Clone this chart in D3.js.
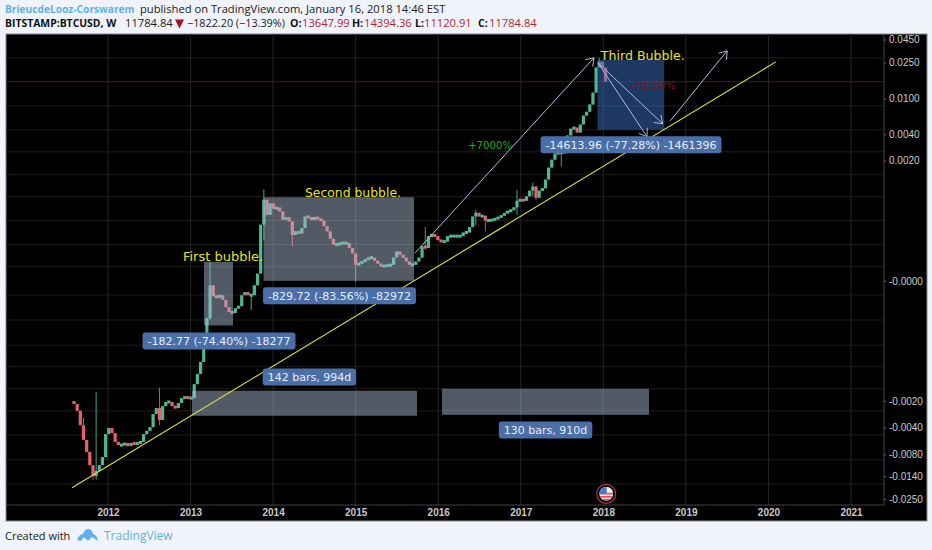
<!DOCTYPE html>
<html>
<head>
<meta charset="utf-8">
<script src="https://cdn.jsdelivr.net/npm/d3@7"></script>
<style>
  html, body { margin: 0; padding: 0; background: #f0f3fa; overflow: hidden; }
  svg { display: block; }
  .head { font-family: "Open Sans", sans-serif; font-size: 11.2px; fill: #222; }
  .axis text { font-family: "Liberation Sans", Arial, sans-serif; font-size: 10px; fill: #c9c9c9; }
  .xaxis text { font-weight: bold; }
  .tag text { font-family: "DejaVu Sans", Verdana, sans-serif; font-size: 11px; fill: #e6edf7; }
</style>
</head>
<body>
<div id="chart"></div>
<script>
// CONSTANTS
const width = 932, height = 550;
const frame = { left: 6, right: 927, top: 34, bottom: 521 };
const plotRight = 884, plotBottom = 505;

const firstYear = 2011.588;
const stepYears = 14 / 365.25; // one candle per two weeks
const firstOpen = -0.00200;
const closes = [
  -0.00217, -0.00259, -0.00377, -0.00552, -0.00751, -0.01055, -0.01397, -0.0122, -0.01055, -0.00859,
  -0.00475, -0.00407, -0.00463, -0.00581, -0.00631, -0.00631, -0.00598, -0.00648, -0.00598, -0.00615,
  -0.00598, -0.00581, -0.00475, -0.00437, -0.00397, -0.00282, -0.00241, -0.00329, -0.00229, -0.00205,
  -0.00205, -0.00229, -0.00241, -0.00211, -0.00185, -0.0018, -0.00185, -0.00185, -0.00127, -0.00096,
  -0.00068, -0.00041, -0.000157, -0.000012, -0.000048, -0.000052, -0.000044, -0.000062, -0.000095, -0.00012,
  -0.000126, -0.0001, -0.00009, -0.000044, -0.000033, -0.000044, -0.000044, -0.000012, 0.00002, 0.000315,
  0.00068, 0.00043, 0.00061, 0.00052, 0.00054, 0.00048, 0.00037, 0.0004, 0.00035, 0.00022,
  0.00025, 0.00023, 0.00028, 0.00041, 0.0004, 0.00037, 0.0004, 0.00038, 0.00036, 0.0003,
  0.00025, 0.00019, 0.00015, 0.00015, 0.00016, 0.00016, 0.00016, 0.00013, 0.0001, 0.00005,
  0.000056, 0.000063, 0.00007, 0.00008, 0.00008, 0.000066, 0.000055, 0.000044, 0.000047, 0.000047,
  0.00005, 0.00008, 0.00011, 0.000093, 0.00008, 0.000063, 0.00005, 0.00005, 0.000063, 0.00008,
  0.00014, 0.00013, 0.00021, 0.00022, 0.00021, 0.00018, 0.00017, 0.00017, 0.00021, 0.00021,
  0.00021, 0.00021, 0.00021, 0.00024, 0.00024, 0.00029, 0.00041, 0.00046, 0.00041, 0.00042,
  0.00036, 0.00036, 0.00037, 0.00038, 0.0004, 0.00042, 0.00046, 0.00048, 0.0005, 0.00054,
  0.00066, 0.00068, 0.00066, 0.00075, 0.00088, 0.00099, 0.00072, 0.00088, 0.00094, 0.0012,
  0.00166, 0.00205, 0.00241, 0.00247, 0.00247, 0.00253, 0.00387, 0.00462, 0.00475, 0.00417,
  0.00514, 0.00647, 0.00713, 0.00859, 0.01165, 0.0221, 0.0256, 0.0221, 0.0154
];
// [candle number, high, low]
const wicks = [
  [3, -0.0031, -0.00552], [6, -0.0110, -0.0153], [7, -0.00156, -0.0153], [27, -0.0014, -0.00377],
  [43, 0.000063, -0.00017], [56, -0.00004, -0.00011], [60, 0.00091, 0.00018], [69, 0.00035, 0.00014],
  [89, 0.00007, -0.000003], [111, 0.00029, 0.00012], [127, 0.0005, 0.00031], [130, 0.00042, 0.00025],
  [140, 0.0009, 0.00043], [145, 0.0011, 0.00075], [146, 0.00099, 0.00068], [154, 0.00255, 0.00171],
  [166, 0.0283, 0.0221]
];

const yearTicks = [2012, 2013, 2014, 2015, 2016, 2017, 2018, 2019, 2020, 2021];
const priceTicks = [0.045, 0.025, 0.01, 0.004, 0.002, 0, -0.002, -0.004, -0.008, -0.014, -0.025];
const priceTickLabels = ["0.0450", "0.0250", "0.0100", "0.0040", "0.0020", "-0.0000", "-0.0020", "-0.0040", "-0.0080", "-0.0140", "-0.0250"];
const gridValues = [0.0283, 0.0083, 0.00448, 0.00252, 0.00137, 0.00074, 0.00036, 0.00015, 0.000043, -0.000043,
  -0.00017, -0.00041, -0.00078, -0.00144, -0.00259, -0.00484, -0.0092, -0.017];
const lastClose = 0.0154;

// [start year, end year, top value, bottom value]
const greyBoxes = [
  [2013.163, 2013.514, 0.000062, -0.00021],
  [2013.884, 2015.707, 0.00073, 0],
  [2013.017, 2015.743, -0.00152, -0.00295],
  [2016.046, 2018.553, -0.00144, -0.00288]
];
const blueBox = [2017.929, 2018.738, 0.0269, 0.00448];
// [start year, start value, end year, end value]
const trendLine = [2011.564, -0.0188, 2020.09, 0.0255];
const arrows = [
  [2015.72, 0.000103, 2017.887, 0.0283],
  [2017.935, 0.0249, 2018.72, 0.00523],
  [2017.935, 0.0249, 2018.53, 0.00374],
  [2018.81, 0.00565, 2019.5, 0.0338]
];
const notes = [
  ["First bubble.", 2012.908, 0.000066, "#e4e41c", 13],
  ["Second bubble.", 2014.386, 0.00074, "#e4e41c", 12.4],
  ["Third Bubble.", 2017.97, 0.0269, "#e4e41c", 12.6],
  ["+7000%", 2016.36, 0.00273, "#17b017", 10.2],
  ["-70.90%", 2018.32, 0.0128, "#7d1b1f", 11]
];
const tags = [
  ["-182.77 (-74.40%) -18277", 2013.345, -0.00036],
  ["-829.72 (-83.56%) -82972", 2014.804, -0.000046],
  ["-14613.96 (-77.28%) -1461396", 2018.335, 0.00303],
  ["142 bars, 994d", 2014.44, -0.00104],
  ["130 bars, 910d", 2017.3, -0.00426]
];
const eventYear = 2018.035, eventValue = -0.0219;

// SCALES
const xScale = d3.scaleLinear().domain([2012, 2021]).range([108, 851]);
const yScale = d3.scaleSymlog().constant(0.0001).domain([-0.025, 0.045]).range([499, 39.5]);

const svg = d3.select("#chart").append("svg").attr("width", width).attr("height", height);

svg.append("defs").append("filter").attr("id", "soft")
  .append("feGaussianBlur").attr("stdDeviation", 0.45);

svg.append("rect")
  .attr("x", frame.left).attr("y", frame.top)
  .attr("width", frame.right - frame.left).attr("height", frame.bottom - frame.top)
  .attr("fill", "#000").attr("stroke", "#8a8a8a");

// HEADER
svg.append("text").attr("class", "head").attr("x", 5).attr("y", 13)
  .attr("font-weight", "bold").style("fill", "#5db3e8").style("font-size", "10.2px")
  .text("BrieucdeLooz-Corswarem");
svg.append("text").attr("class", "head").attr("x", 140).attr("y", 13)
  .text("published on TradingView.com, January 16, 2018 14:46 EST");

const head2 = [
  ["BITSTAMP:BTCUSD, W", 5, "#111", "bold", "10.4px"],
  ["11784.84", 125, "#222", "normal", "11.2px"],
  ["\u22121822.20 (\u221213.39%)", 187, "#222", "normal", "10.8px"],
  ["O:", 290, "#111", "bold", "10.6px"], ["13647.99", 302, "#b3262f", "normal", "11.2px"],
  ["H:", 352, "#111", "bold", "10.6px"], ["14394.36", 364, "#b3262f", "normal", "11.2px"],
  ["L:", 415, "#111", "bold", "10.6px"], ["11120.91", 424, "#b3262f", "normal", "11.2px"],
  ["C:", 478, "#111", "bold", "10.6px"], ["11784.84", 489, "#b3262f", "normal", "11.2px"]
];
svg.selectAll(".head2").data(head2).join("text")
  .attr("class", "head head2")
  .attr("x", d => d[1]).attr("y", 27)
  .style("fill", d => d[2]).style("font-size", d => d[4])
  .attr("font-weight", d => d[3])
  .text(d => d[0]);
svg.append("path").attr("d", "M175,19.5h9l-4.5,9z").attr("fill", "#a5141e");

// GRID
svg.append("g").selectAll("line").data(gridValues).join("line")
  .attr("x1", frame.left).attr("x2", plotRight)
  .attr("y1", d => yScale(d)).attr("y2", d => yScale(d))
  .attr("stroke", "#1d1d1d");
svg.append("g").selectAll("line").data(yearTicks).join("line")
  .attr("x1", d => xScale(d)).attr("x2", d => xScale(d))
  .attr("y1", frame.top).attr("y2", plotBottom)
  .attr("stroke", "#242424");
svg.append("line")
  .attr("x1", frame.left).attr("x2", plotRight)
  .attr("y1", yScale(lastClose)).attr("y2", yScale(lastClose))
  .attr("stroke", "#4a181d");

// AXES
const xAxis = d3.axisBottom(xScale).tickValues(yearTicks).tickFormat(d3.format("d")).tickSize(0).tickPadding(4);
const yAxis = d3.axisRight(yScale).tickValues(priceTicks).tickFormat((d, i) => priceTickLabels[i]).tickSize(2).tickPadding(3);

svg.append("g").attr("class", "axis xaxis")
  .attr("transform", `translate(0, ${plotBottom})`)
  .call(xAxis)
  .call(g => g.select(".domain").attr("d", `M${frame.left},0H${plotRight}`).attr("stroke", "#444"));
svg.append("g").attr("class", "axis")
  .attr("transform", `translate(${plotRight}, 0)`)
  .call(yAxis)
  .call(g => g.select(".domain").attr("d", `M0,${frame.top}V${plotBottom}`).attr("stroke", "#444"))
  .call(g => g.selectAll(".tick line").attr("stroke", "#666"));

// CANDLES
const candles = closes.map((close, i) => {
  const open = i === 0 ? firstOpen : closes[i - 1];
  const wick = wicks.find(w => w[0] === i);
  return {
    year: firstYear + i * stepYears,
    open: open,
    close: close,
    high: wick ? wick[1] : Math.max(open, close),
    low: wick ? wick[2] : Math.min(open, close)
  };
});
const candleColor = d => d.close >= d.open ? "#4fb892" : "#e8606d";

const candleGroup = svg.append("g").attr("filter", "url(#soft)");
candleGroup.append("g").selectAll("line").data(candles).join("line")
  .attr("x1", d => xScale(d.year)).attr("x2", d => xScale(d.year))
  .attr("y1", d => yScale(d.high)).attr("y2", d => yScale(d.low))
  .attr("stroke", candleColor).attr("stroke-width", 0.9);
candleGroup.append("g").selectAll("rect").data(candles).join("rect")
  .attr("x", d => xScale(d.year) - 1.6).attr("width", 3.2)
  .attr("y", d => (yScale(d.open) + yScale(d.close)) / 2 - Math.max(3, Math.abs(yScale(d.open) - yScale(d.close))) / 2)
  .attr("height", d => Math.max(3, Math.abs(yScale(d.open) - yScale(d.close))))
  .attr("fill", candleColor);

// BOXES
svg.append("g").selectAll("rect").data(greyBoxes).join("rect")
  .attr("x", d => xScale(d[0])).attr("width", d => xScale(d[1]) - xScale(d[0]))
  .attr("y", d => yScale(d[2])).attr("height", d => yScale(d[3]) - yScale(d[2]))
  .attr("fill", "#a9bdd3").attr("opacity", 0.48);
svg.append("rect")
  .attr("x", xScale(blueBox[0])).attr("width", xScale(blueBox[1]) - xScale(blueBox[0]))
  .attr("y", yScale(blueBox[2])).attr("height", yScale(blueBox[3]) - yScale(blueBox[2]))
  .attr("fill", "#3a6fc4").attr("opacity", 0.5);

// LINES
svg.append("line")
  .attr("x1", xScale(trendLine[0])).attr("y1", yScale(trendLine[1]))
  .attr("x2", xScale(trendLine[2])).attr("y2", yScale(trendLine[3]))
  .attr("stroke", "#dcdc48").attr("stroke-width", 1.1);

const arrowGroup = svg.append("g").attr("stroke", "#b4b8dc").attr("stroke-width", 1).attr("fill", "none");
arrows.forEach(a => {
  const x1 = xScale(a[0]), y1 = yScale(a[1]), x2 = xScale(a[2]), y2 = yScale(a[3]);
  const angle = Math.atan2(y2 - y1, x2 - x1);
  const head = 9;
  arrowGroup.append("line").attr("x1", x1).attr("y1", y1).attr("x2", x2).attr("y2", y2);
  arrowGroup.append("path").attr("d", d3.line()([
    [x2 - head * Math.cos(angle - 0.6), y2 - head * Math.sin(angle - 0.6)],
    [x2, y2],
    [x2 - head * Math.cos(angle + 0.6), y2 - head * Math.sin(angle + 0.6)]
  ]));
});

// TEXT NOTES
svg.append("g").selectAll("text").data(notes).join("text")
  .attr("x", d => xScale(d[1])).attr("y", d => yScale(d[2]))
  .attr("fill", d => d[3]).attr("font-size", d => d[4])
  .attr("font-family", "'DejaVu Sans', Verdana, sans-serif")
  .text(d => d[0]);

// MEASURE TAGS
const tag = svg.append("g").selectAll("g").data(tags).join("g")
  .attr("class", "tag")
  .attr("transform", d => `translate(${xScale(d[1])}, ${yScale(d[2])})`);
tag.append("text").attr("text-anchor", "middle").attr("dy", "0.35em").text(d => d[0]);
tag.insert("rect", "text").each(function() {
  const box = this.parentNode.querySelector("text").getBBox();
  d3.select(this)
    .attr("x", box.x - 5).attr("y", -8.5)
    .attr("width", box.width + 10).attr("height", 17)
    .attr("rx", 3).attr("fill", "#4a6fa8");
});

// EVENT MARKER
const ex = xScale(eventYear), ey = yScale(eventValue);
const marker = svg.append("g").attr("transform", `translate(${ex}, ${ey})`);
marker.append("circle").attr("r", 9.5).attr("fill", "#000").attr("stroke", "#a83a4a").attr("stroke-width", 1.2);
marker.append("clipPath").attr("id", "flag").append("circle").attr("r", 7);
const flag = marker.append("g").attr("clip-path", "url(#flag)");
flag.append("rect").attr("x", -7).attr("y", -7).attr("width", 14).attr("height", 14).attr("fill", "#f2f2f2");
flag.selectAll(".stripe").data([-1, 2.2, 5]).join("rect")
  .attr("class", "stripe").attr("x", -7).attr("y", d => d).attr("width", 14).attr("height", 1.7).attr("fill", "#e2525f");
flag.append("rect").attr("x", -7).attr("y", -7).attr("width", 7.5).attr("height", 7).attr("fill", "#4a78d0");

// FOOTER
svg.append("text").attr("x", 5).attr("y", 540)
  .attr("font-family", "'Open Sans', sans-serif").attr("font-size", 11).attr("fill", "#222")
  .text("Created with");
svg.append("path")
  .attr("d", "M77,540 Q79,534 83,534 Q85,529 88,529 Q92,529 93,534 Q97,535 98,541 L92,537 L88,541 L84,537 L81,541 Z")
  .attr("fill", "#5db3e8");
svg.append("text").attr("x", 104).attr("y", 540)
  .attr("font-family", "'Open Sans', sans-serif").attr("font-size", 12).attr("fill", "#5db3e8")
  .text("TradingView");
</script>
</body>
</html>
